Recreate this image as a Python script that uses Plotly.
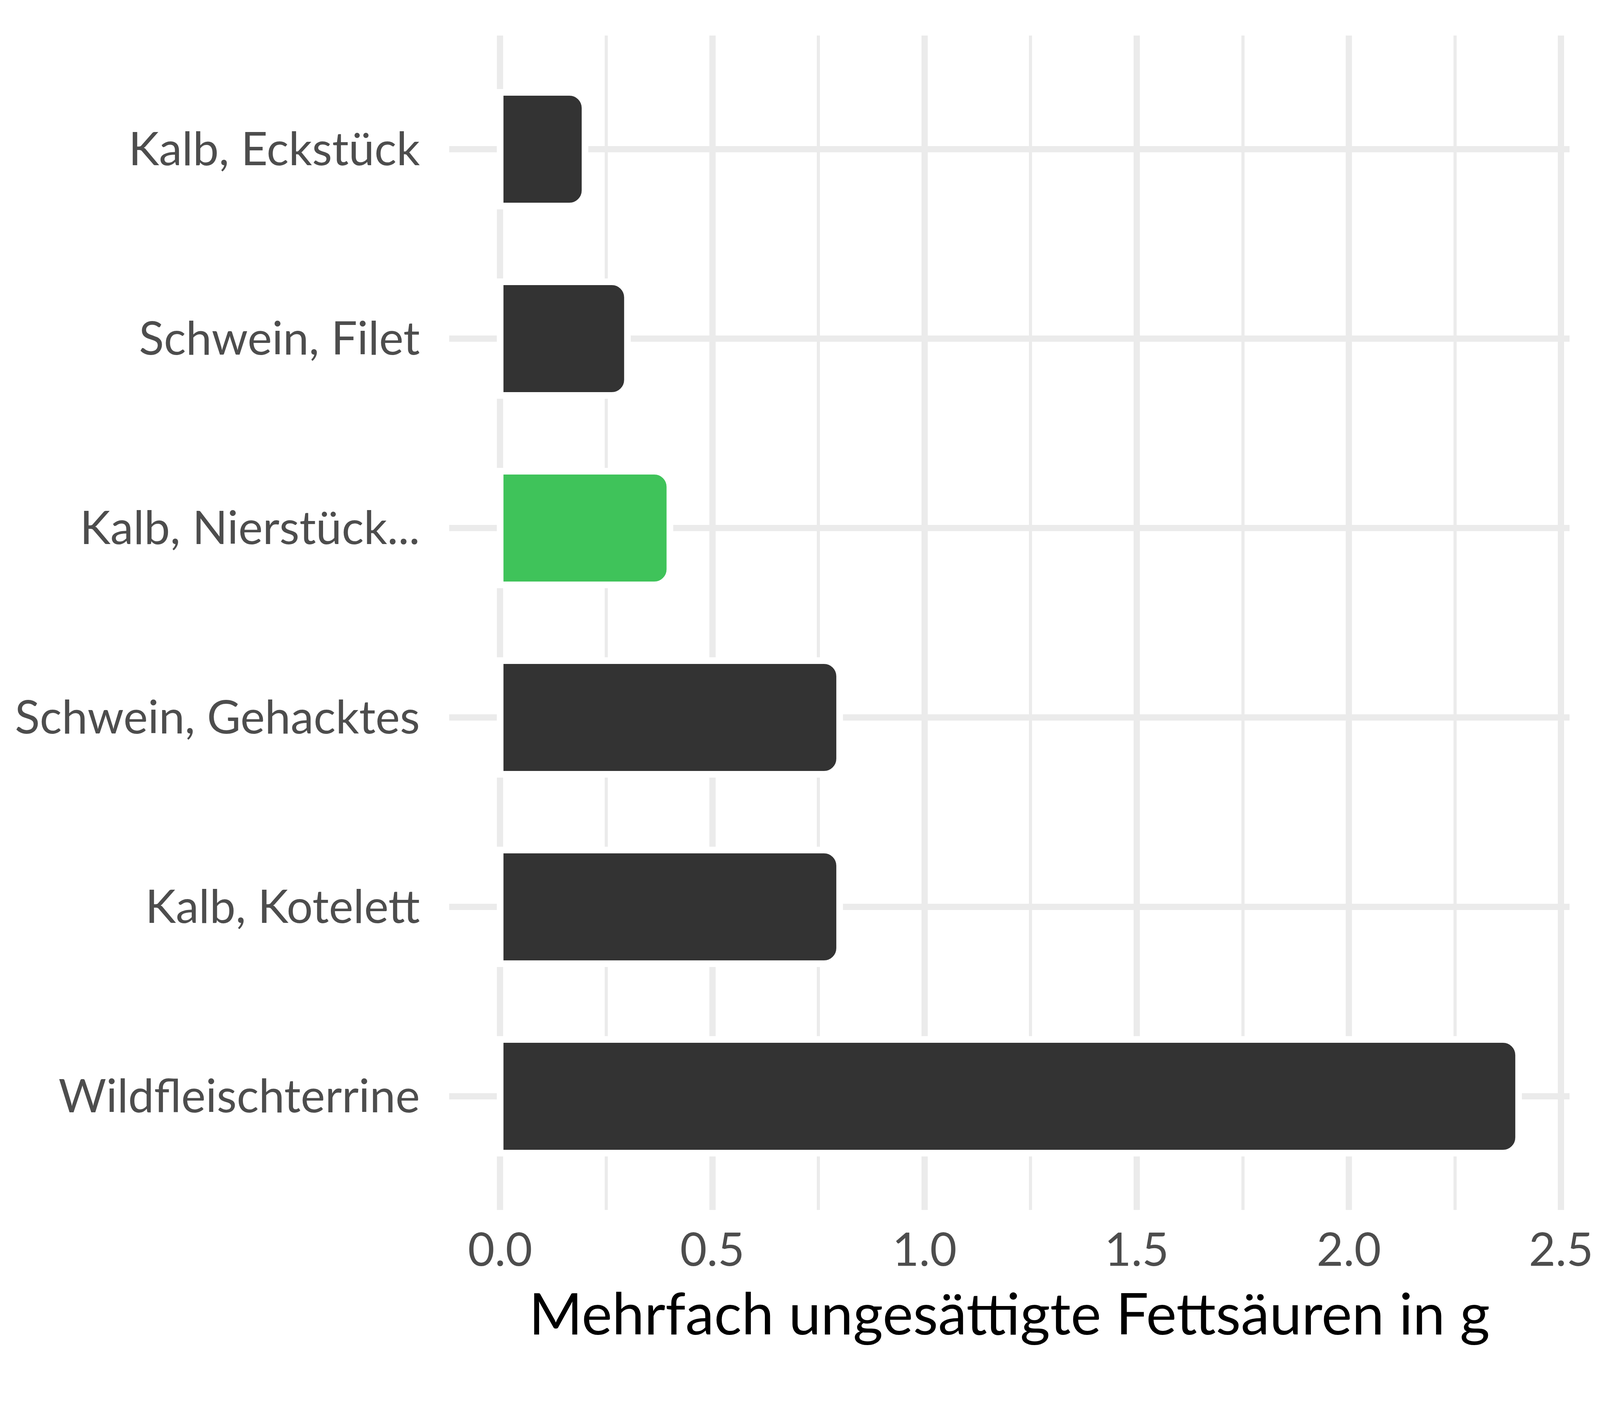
import plotly.graph_objects as go

categories = ["Kalb, Eckstück", "Schwein, Filet", "Kalb, Nierstück...",
              "Schwein, Gehacktes", "Kalb, Kotelett", "Wildfleischterrine"]
values = [0.2, 0.3, 0.4, 0.8, 0.8, 2.4]
highlight = "Kalb, Nierstück..."
x_ticks = [0.0, 0.5, 1.0, 1.5, 2.0, 2.5]
x_title = "Mehrfach ungesättigte Fettsäuren in g"

DARK = "#333333"
GREEN = "#3FC35A"
colors = [GREEN if c == highlight else DARK for c in categories]

FONT = "Lato, 'Open Sans', sans-serif"

fig = go.Figure(go.Bar(
    x=values, y=categories, orientation="h", width=0.6,
    marker=dict(color=colors, cornerradius=40,
                line=dict(color="white", width=17)),
))

fig.update_layout(
    width=4800, height=3600,
    paper_bgcolor="white", plot_bgcolor="white",
    margin=dict(l=1348, r=91, t=91, b=502),
    showlegend=False,
    font=dict(family=FONT, color="#4D4D4D"),
)
fig.update_xaxes(
    range=[-0.12, 2.52], tickvals=x_ticks, tickformat=".1f",
    showgrid=True, gridcolor="#EBEBEB", gridwidth=16,
    minor=dict(showgrid=True, gridcolor="#EBEBEB", gridwidth=8, dtick=0.25, tick0=0),
    zeroline=False, showline=False, ticks="",
    tickfont=dict(size=128, color="#4D4D4D", family=FONT),
    ticklabelstandoff=24,
    title=dict(text=x_title, font=dict(size=160, color="black", family=FONT), standoff=48),
)
fig.update_yaxes(
    categoryorder="array", categoryarray=categories,
    range=[5.6, -0.6],
    showgrid=True, gridcolor="#EBEBEB", gridwidth=16,
    zeroline=False, showline=False, ticks="",
    tickfont=dict(size=128, color="#4D4D4D", family=FONT),
    ticklabelstandoff=87,
)

# Fit the figure to the actual browser viewport width (keeps the layout proportions).
fit_js = """
document.body.style.margin = '0';
var gd = document.getElementById('{plot_id}');
var k = Math.min(1, window.innerWidth / 4800);
var f = Math.sqrt(k);
return Plotly.relayout(gd, {
  'width': Math.floor(4800 * k),
  'margin.l': 1348 * k,
  'margin.r': 91 * k,
  'yaxis.ticklabelstandoff': Math.round(87 * k),
  'yaxis.tickfont.size': 128 * f,
  'xaxis.tickfont.size': 128 * f,
  'xaxis.title.font.size': 160 * f
});
"""

fig.write_html("out.html", post_script=fit_js, config={"displayModeBar": False})
